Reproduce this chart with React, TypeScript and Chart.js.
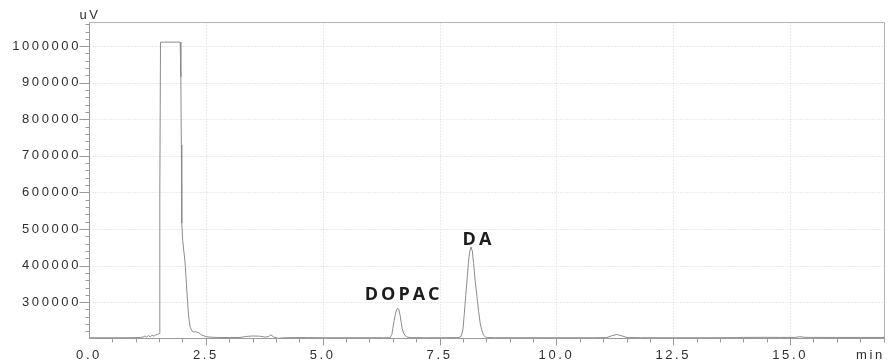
import { useEffect, useRef } from "react";
import { Chart, registerables } from "chart.js";

Chart.register(...registerables);

// Retention time (min) and detector signal (uV)
const TIME_MIN = [
  0.0, 0.3, 0.6, 0.9, 1.1, 1.16, 1.2, 1.23, 1.27, 1.31, 1.35, 1.39, 1.43, 1.47, 1.5,
  1.515, 1.53, 1.95, 1.965, 1.975, 1.985, 2.005, 2.05, 2.075, 2.092, 2.11, 2.126, 2.145,
  2.163, 2.2, 2.233, 2.28, 2.34, 2.41, 2.5, 2.59, 2.75, 3.0, 3.23, 3.35, 3.49, 3.65,
  3.77, 3.84, 3.89, 3.95, 4.05, 4.15, 4.4, 4.7, 5.0, 5.5, 6.0, 6.3, 6.44, 6.48, 6.5,
  6.53, 6.55, 6.58, 6.606, 6.63, 6.655, 6.68, 6.7, 6.73, 6.76, 6.8, 6.9, 7.2, 7.6, 7.9,
  7.96, 8.0, 8.03, 8.06, 8.088, 8.116, 8.14, 8.173, 8.2, 8.229, 8.26, 8.3, 8.335, 8.37,
  8.4, 8.44, 8.48, 8.52, 8.7, 9.2, 10.0, 10.8, 11.08, 11.18, 11.29, 11.4, 11.51, 11.8,
  12.5, 13.2, 13.86, 14.0, 14.4, 14.8, 15.1, 15.21, 15.32, 15.6, 16.0, 16.5, 17.03,
];
const SIGNAL_UV = [
  202600, 202700, 202600, 202800, 203200, 205000, 207500, 204500, 208500, 205500, 209500,
  207000, 210500, 212000, 214000, 600000, 1011000, 1011000, 916000, 730000, 516000,
  468000, 415000, 370000, 333000, 300000, 270000, 248000, 232000, 222000, 218700, 219000,
  217000, 210000, 206000, 204300, 203500, 203200, 203500, 206000, 207500, 207000, 204500,
  206000, 210500, 205000, 201000, 202500, 203200, 203000, 202700, 202700, 202800, 202800,
  203000, 212000, 228000, 250000, 264400, 279000, 283500, 279000, 264400, 244000, 228000,
  215000, 209700, 204500, 203000, 202800, 202800, 203000, 206000, 225000, 269000, 318000,
  360000, 405800, 435000, 451200, 440000, 405800, 360000, 315000, 275000, 241700, 225000,
  209700, 205000, 203200, 202800, 202800, 202700, 202700, 203200, 208000, 211500, 208000,
  203200, 202800, 202700, 202700, 203000, 203600, 203800, 203600, 203500, 205500, 203800,
  203600, 203500, 203500, 203500,
];

const X_TICKS = [0, 2.5, 5, 7.5, 10, 12.5, 15];
const Y_TICKS = [300000, 400000, 500000, 600000, 700000, 800000, 900000, 1000000];
const X_MIN = 0;
const X_MAX = 17.03;
const Y_MIN = 202000;
const Y_MAX = 1066000;
const X_MINOR_STEP = 0.5;
const Y_MINOR_STEP = 20000;

const PEAK_NAMES = ["DOPAC", "DA"];
const PEAK_LABEL_TIME = [6.7, 8.3];
const PEAK_LABEL_VALUE = [319000, 469500];

const Y_UNIT = "uV";
const X_UNIT = "min";

const TICK_FONT = "'Liberation Sans', Arial, sans-serif";
const TICK_SIZE = 13;
const TEXT_COLOR = "#2f2f2f";
const SPACING = "2.6px";

const framePlugin = {
  id: "frame",
  beforeDraw(chart: any) {
    chart.ctx.letterSpacing = SPACING;
  },
  beforeDatasetsDraw(chart: any) {
    const { ctx, chartArea: a } = chart;
    const x = chart.scales.x;
    const y = chart.scales.y;
    const L = Math.round(a.left) + 0.5;
    const R = Math.round(a.right) - 0.5;
    const T = Math.round(a.top) + 0.5;
    const B = Math.round(a.bottom) + 0.5;
    ctx.save();
    ctx.letterSpacing = "0px";
    // dotted grid
    ctx.strokeStyle = "#d6d6d6";
    ctx.lineWidth = 1;
    ctx.setLineDash([1, 2]);
    for (const v of X_TICKS) {
      if (v <= X_MIN) continue;
      const px = Math.round(x.getPixelForValue(v)) + 0.5;
      ctx.beginPath();
      ctx.moveTo(px, T);
      ctx.lineTo(px, B);
      ctx.stroke();
    }
    for (const v of Y_TICKS) {
      const py = Math.round(y.getPixelForValue(v)) + 0.5;
      ctx.beginPath();
      ctx.moveTo(L, py);
      ctx.lineTo(R, py);
      ctx.stroke();
    }
    ctx.setLineDash([]);
    // frame top/right
    ctx.strokeStyle = "#b4b4b4";
    ctx.beginPath();
    ctx.moveTo(L, T);
    ctx.lineTo(R, T);
    ctx.lineTo(R, B);
    ctx.stroke();
    // axes
    ctx.strokeStyle = "#9a9a9a";
    ctx.beginPath();
    ctx.moveTo(L, T);
    ctx.lineTo(L, B);
    ctx.lineTo(R, B);
    ctx.stroke();
    // y ticks
    ctx.beginPath();
    for (let v = Math.ceil(Y_MIN / Y_MINOR_STEP) * Y_MINOR_STEP; v <= Y_MAX; v += Y_MINOR_STEP) {
      const py = Math.round(y.getPixelForValue(v)) + 0.5;
      const len = v % 100000 === 0 ? 10 : 4;
      ctx.moveTo(L - len, py);
      ctx.lineTo(L, py);
    }
    // x ticks
    for (let i = 1; i * X_MINOR_STEP <= X_MAX; i++) {
      const v = i * X_MINOR_STEP;
      const px = Math.round(x.getPixelForValue(v)) + 0.5;
      const len = i % 5 === 0 ? 7 : 4;
      ctx.moveTo(px, B);
      ctx.lineTo(px, B + len);
    }
    ctx.stroke();
    ctx.restore();
  },
  afterDraw(chart: any) {
    const { ctx, chartArea: a } = chart;
    const x = chart.scales.x;
    const y = chart.scales.y;
    ctx.save();
    // unit labels
    ctx.font = `${TICK_SIZE}px ${TICK_FONT}`;
    ctx.fillStyle = TEXT_COLOR;
    ctx.letterSpacing = SPACING;
    ctx.textBaseline = "middle";
    ctx.textAlign = "center";
    ctx.fillText(Y_UNIT, a.left + 1, a.top - 7);
    ctx.textAlign = "left";
    ctx.fillText(X_UNIT, a.right - 29, a.bottom + 17.5);
    // peak labels
    ctx.font = "bold 18px 'Open Sans', sans-serif";
    ctx.letterSpacing = "3px";
    ctx.fillStyle = "#1c1c1c";
    ctx.textAlign = "center";
    for (let i = 0; i < PEAK_NAMES.length; i++) {
      const px = x.getPixelForValue(PEAK_LABEL_TIME[i]) + 1.5;
      const py = y.getPixelForValue(PEAK_LABEL_VALUE[i]);
      ctx.fillText(PEAK_NAMES[i], px, py);
    }
    ctx.restore();
  },
};

export default function App() {
  const ref = useRef<HTMLCanvasElement>(null);
  useEffect(() => {
    const chart = new Chart(ref.current as HTMLCanvasElement, {
      type: "line",
      data: {
        datasets: [
          {
            data: TIME_MIN.map((t, i) => ({ x: t, y: SIGNAL_UV[i] })),
            borderColor: "#8c8c8c",
            borderWidth: 1,
            pointRadius: 0,
            tension: 0,
            fill: false,
          },
        ],
      },
      options: {
        responsive: false,
        animation: false,
        layout: { padding: { top: 22, right: 4, left: 0, bottom: 0 } },
        plugins: { legend: { display: false }, tooltip: { enabled: false } },
        scales: {
          x: {
            type: "linear",
            min: X_MIN,
            max: X_MAX,
            grid: { display: false, drawTicks: false, tickLength: 0 },
            border: { display: false },
            afterBuildTicks: (s: any) => {
              s.ticks = X_TICKS.map((v) => ({ value: v }));
            },
            afterFit: (s: any) => {
              s.height = 26;
            },
            ticks: {
              autoSkip: false,
              maxRotation: 0,
              padding: 10,
              color: TEXT_COLOR,
              font: { family: TICK_FONT, size: TICK_SIZE },
              callback: (v: any) => Number(v).toFixed(1),
            },
          },
          y: {
            type: "linear",
            min: Y_MIN,
            max: Y_MAX,
            grid: { display: false, drawTicks: false, tickLength: 0 },
            border: { display: false },
            afterBuildTicks: (s: any) => {
              s.ticks = Y_TICKS.map((v) => ({ value: v }));
            },
            afterFit: (s: any) => {
              s.width = 89;
            },
            ticks: {
              autoSkip: false,
              padding: 8,
              color: TEXT_COLOR,
              font: { family: TICK_FONT, size: TICK_SIZE },
              callback: (v: any) => String(v),
            },
          },
        },
      },
      plugins: [framePlugin],
    } as any);
    return () => chart.destroy();
  }, []);
  return (
    <div style={{ position: "absolute", left: 0, top: 0, width: 889, height: 364, background: "#fff" }}>
      <canvas ref={ref} width={889} height={364} style={{ display: "block", width: 889, height: 364 }} />
    </div>
  );
}
